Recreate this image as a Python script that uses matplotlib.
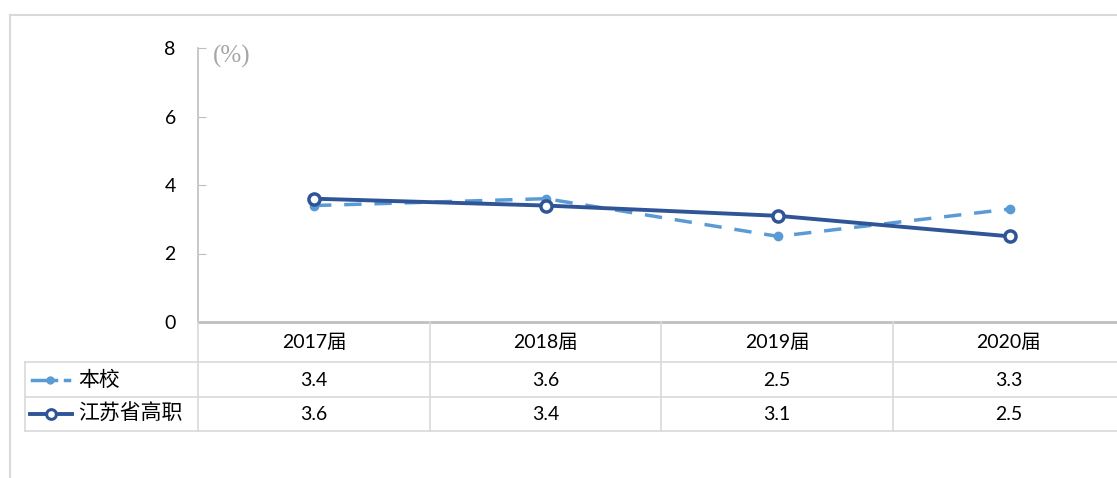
import matplotlib
matplotlib.use('Agg')
import matplotlib.pyplot as plt
from matplotlib.lines import Line2D

plt.rcParams['font.family'] = ['Lato', 'Noto Sans CJK SC', 'DejaVu Sans']

categories = ['2017届', '2018届', '2019届', '2020届']
series_names = ['本校', '江苏省高职']
school = [3.4, 3.6, 2.5, 3.3]
province = [3.6, 3.4, 3.1, 2.5]
yticks = [0, 2, 4, 6, 8]

W, H = 1117, 478
fig = plt.figure(figsize=(W / 100, H / 100), dpi=100)


def fx(px):
    return px / W


def fy(py):
    return 1 - py / H


grid_c = '#D9D9D9'
light = '#5B9BD5'
dark = '#2F5597'

# outer frame
fig.add_artist(Line2D([fx(10), fx(10)], [fy(15), fy(478)], color=grid_c, lw=1.5))
fig.add_artist(Line2D([fx(10), 1], [fy(15), fy(15)], color=grid_c, lw=1.5))

# plot area: categories 232 px apart, first at 313
left, right, top, bottom = 198, 1126, 48, 322
ax = fig.add_axes([fx(left), fy(bottom), fx(right - left), fy(top) - fy(bottom)])
ax.set_xlim(-0.5, len(categories) - 0.5)
ax.set_ylim(0, 8)
ax.set_yticks(yticks)
ax.set_yticklabels([str(v) for v in yticks], fontsize=14)
ax.set_xticks([])
for s in ['top', 'right', 'bottom']:
    ax.spines[s].set_visible(False)
ax.spines['left'].set_color('#BFBFBF')
ax.spines['left'].set_linewidth(1.2)
ax.tick_params(axis='y', direction='in', length=6, color='#BFBFBF', pad=16)
ax.patch.set_alpha(0)

x = range(len(categories))
ax.plot(x, school, color=light, lw=2.5, ls=(0, (5, 3.7)), marker='o', ms=6,
        mfc=light, mec=light, clip_on=False, zorder=3)
ax.plot(x, province, color=dark, lw=2.8, marker='o', ms=8, mfc='white',
        mec=dark, mew=2.5, clip_on=False, zorder=4)
ax.text(0.016, 0.97, '(%)', transform=ax.transAxes, fontsize=18,
        color='#A6A6A6', family='Liberation Serif', va='center')

# table
col_edges = [198, 430, 661, 893, 1125]
row_edges = [322, 362, 397, 431]
fig.add_artist(Line2D([fx(198), 1], [fy(322), fy(322)], color='#BFBFBF', lw=2))
for r in row_edges[1:]:
    fig.add_artist(Line2D([fx(25), 1], [fy(r), fy(r)], color=grid_c, lw=1.2))
fig.add_artist(Line2D([fx(25), fx(25)], [fy(362), fy(431)], color=grid_c, lw=1.2))
for c in col_edges[:-1]:
    fig.add_artist(Line2D([fx(c), fx(c)], [fy(322), fy(431)], color=grid_c, lw=1.2))

for i, cat in enumerate(categories):
    cx = (col_edges[i] + col_edges[i + 1]) / 2
    fig.text(fx(cx), fy(342), cat, ha='center', va='center', fontsize=14)
    fig.text(fx(cx), fy(380), f'{school[i]:.1f}', ha='center', va='center', fontsize=14)
    fig.text(fx(cx), fy(414), f'{province[i]:.1f}', ha='center', va='center', fontsize=14)

# legend keys inside the table
fig.add_artist(Line2D([fx(32), fx(56)], [fy(380), fy(380)], color=light, lw=2.5))
fig.add_artist(Line2D([fx(50)], [fy(380)], color=light, marker='o', ms=5, lw=0))
fig.add_artist(Line2D([fx(65), fx(69)], [fy(380), fy(380)], color=light, lw=2.5))
fig.add_artist(Line2D([fx(30), fx(72)], [fy(414), fy(414)], color=dark, lw=2.8))
fig.add_artist(Line2D([fx(51)], [fy(414)], color=dark, marker='o', ms=7,
                      mfc='white', mec=dark, mew=2.2, lw=0))
fig.text(fx(78), fy(380), series_names[0], ha='left', va='center', fontsize=15)
fig.text(fx(78), fy(414), series_names[1], ha='left', va='center', fontsize=15)

fig.savefig('out.png', dpi=100)
